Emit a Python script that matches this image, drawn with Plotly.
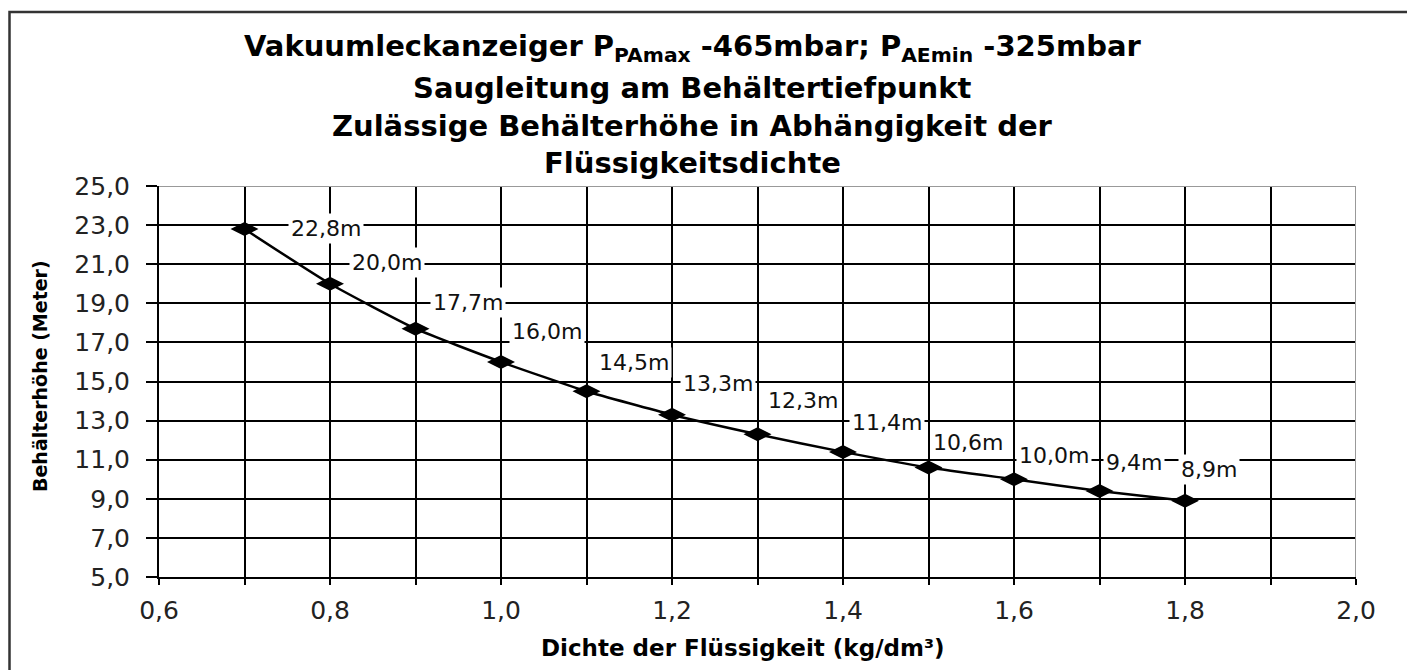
import plotly.graph_objects as go

# ---- data ----
density = [0.7, 0.8, 0.9, 1.0, 1.1, 1.2, 1.3, 1.4, 1.5, 1.6, 1.7, 1.8]
height_m = [22.8, 20.0, 17.7, 16.0, 14.5, 13.3, 12.3, 11.4, 10.6, 10.0, 9.4, 8.9]

title_lines = [
    "Vakuumleckanzeiger P<sub>PAmax</sub> -465mbar; P<sub>AEmin</sub> -325mbar",
    "Saugleitung am Behältertiefpunkt",
    "Zulässige Behälterhöhe in Abhängigkeit der",
    "Flüssigkeitsdichte",
]
x_title = "Dichte der Flüssigkeit (kg/dm³)"
y_title = "Behälterhöhe (Meter)"

# label placement offsets (pixels, style only)
label_dx = [46, 22, 17, 11, 12, 11, 10, 9, 4, 5, 6, -4]
label_dy = [1, 21, 26, 30, 29, 31, 34, 29, 25, 24, 28, 31]

# page has an 8px body margin; figure is placed at (8, 8)
OFF = 8
W, H = 1415, 670
PLOT_L, PLOT_R, PLOT_T, PLOT_B = 159, 1356, 186, 577   # page pixels
L = PLOT_L - OFF
T = PLOT_T - OFF
R = (OFF + W) - PLOT_R
B = (OFF + H) - PLOT_B
PW, PH = PLOT_R - PLOT_L, PLOT_B - PLOT_T


def px_x(p):
    return (p - PLOT_L) / PW


def px_y(p):
    return (PLOT_B - p) / PH


FONT = "DejaVu Sans"

fig = go.Figure()
fig.add_trace(go.Scatter(
    x=density, y=height_m, mode="lines+markers",
    line=dict(color="black", width=2.5, shape="spline", smoothing=0.5),
    marker=dict(symbol="diamond-wide", size=20, color="black"),
    showlegend=False, hoverinfo="skip",
))

annotations = []
for xv, yv, dx, dy in zip(density, height_m, label_dx, label_dy):
    annotations.append(dict(
        x=xv, y=yv, xref="x", yref="y",
        text=f"{yv:.1f}".replace(".", ",") + "m",
        showarrow=False, xanchor="left", yanchor="middle",
        xshift=dx - 3, yshift=dy,
        bgcolor="white", borderpad=2,
        font=dict(family=FONT, size=22, color="#111"),
    ))

title_y = [48, 88, 126, 163]
for txt, ty in zip(title_lines, title_y):
    annotations.append(dict(
        x=px_x(692), y=px_y(ty), xref="paper", yref="paper",
        text=txt, showarrow=False, xanchor="center", yanchor="middle",
        font=dict(family=FONT, size=29, color="black", weight="bold"),
    ))

annotations.append(dict(
    x=px_x(743), y=px_y(648), xref="paper", yref="paper",
    text=x_title, showarrow=False, xanchor="center", yanchor="middle",
    font=dict(family=FONT, size=23, color="black", weight="bold"),
))
annotations.append(dict(
    x=px_x(40), y=px_y(376), xref="paper", yref="paper",
    text=y_title, showarrow=False, xanchor="center", yanchor="middle",
    textangle=-90,
    font=dict(family=FONT, size=19, color="black", weight="bold"),
))

shapes = [
    # outer chart frame
    dict(type="rect", xref="paper", yref="paper",
         x0=px_x(9.5), x1=px_x(1409), y0=px_y(12), y1=px_y(720),
         line=dict(color="#333", width=2.5), layer="below"),
    # gray plot border top/right
    dict(type="line", xref="x", yref="y", x0=0.6, x1=2.0, y0=25, y1=25,
         line=dict(color="#999", width=2)),
    dict(type="line", xref="x", yref="y", x0=2.0, x1=2.0, y0=5, y1=25,
         line=dict(color="#999", width=2)),
]

fig.update_layout(
    width=W, height=H,
    margin=dict(l=L, r=R, t=T, b=B, pad=0),
    paper_bgcolor="white", plot_bgcolor="white",
    separators=",.",
    font=dict(family=FONT, color="#222"),
    annotations=annotations,
    shapes=shapes,
)
fig.update_xaxes(
    range=[0.6, 2.0], tick0=0.6, dtick=0.2, tickformat=".1f",
    showgrid=True, gridcolor="black", gridwidth=1.5,
    showline=True, linecolor="black", linewidth=2,
    ticks="outside", ticklen=6, tickwidth=2, tickcolor="black",
    ticklabelstandoff=4,
    tickfont=dict(family=FONT, size=25, color="#222"),
    minor=dict(dtick=0.1, tick0=0.6, showgrid=True, gridcolor="black",
               gridwidth=1.5, ticks="outside", ticklen=6, tickwidth=2,
               tickcolor="black"),
    zeroline=False,
)
fig.update_yaxes(
    range=[5, 25], tick0=5, dtick=2, tickformat=".1f",
    showgrid=True, gridcolor="black", gridwidth=1.5,
    showline=True, linecolor="black", linewidth=2,
    ticks="outside", ticklen=11, tickwidth=2, tickcolor="black",
    ticklabelstandoff=11,
    tickfont=dict(family=FONT, size=25, color="#222"),
    zeroline=False,
)

fig.write_html("out.html")
